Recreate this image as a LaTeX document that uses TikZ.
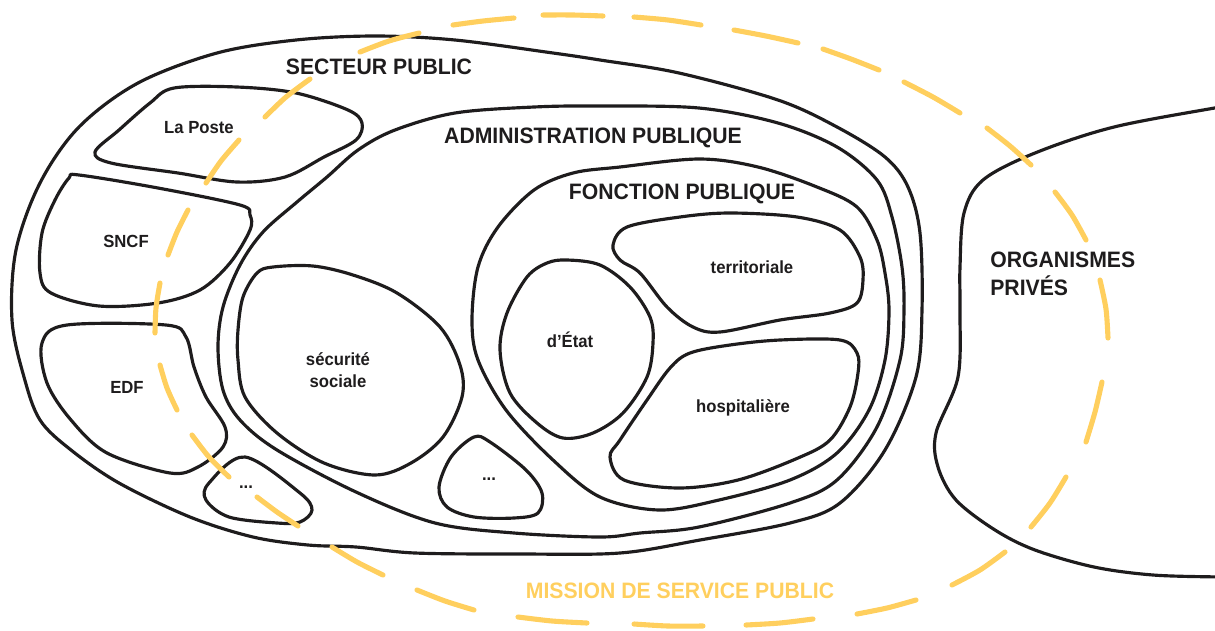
\documentclass[tikz,border=0pt]{standalone}
\usepackage{fontspec}
\setmainfont{Liberation Sans}[FakeStretch=0.95]
\definecolor{ink}{RGB}{30,28,29}
\definecolor{gold}{RGB}{255,207,94}
\tikzset{
  blob/.style={draw=ink, line width=1.8pt, line join=round},
  mission/.style={draw=gold, line width=2.9pt, line cap=round},
  biglabel/.style={font=\bfseries\fontsize{12.7}{16}\selectfont, text=ink, inner sep=0pt},
  smalllabel/.style={font=\bfseries\fontsize{10}{12.5}\selectfont, text=ink, align=center, inner sep=0pt},
}
\begin{document}
\begin{tikzpicture}[x=0.02cm, y=-0.02cm]
\useasboundingbox (0,0) rectangle (1215,630);
% outer: secteur public
\draw[blob] plot[smooth cycle, tension=0.55] coordinates {
 (12,320) (24,377) (40,420) (71,450) (119,483) (190,517) (253,537) (308,545)
 (356,547) (415,553) (520,554) (620,553) (700,540) (790,523) (840,503) (885,450)
 (916,377) (922,310) (920,233) (908,187) (885,157) (837,127) (778,100) (679,73)
 (600,60) (553,53) (455,40) (375,36) (296,40) (217,53) (138,83) (79,127) (40,183) (16,250)};
% administration publique
\draw[blob] plot[smooth cycle, tension=0.55] coordinates {
 (218,347) (223,390) (240,420) (277,450) (356,492) (435,523) (514,533) (600,537)
 (640,533) (699,527) (790,503) (837,480) (877,427) (900,360) (904,310) (902,267)
 (892,217) (877,180) (837,147) (778,123) (699,108) (600,106) (534,107) (455,113)
 (395,130) (358,150) (327,177) (297,202) (263,232) (240,265) (223,307)};
% fonction publique
\draw[blob] plot[smooth cycle, tension=0.55] coordinates {
 (472,320) (478,360) (506,410) (553,460) (600,497) (659,510) (719,500) (790,480)
 (837,453) (869,410) (885,360) (889,310) (885,273) (877,240) (857,207) (817,187)
 (758,167) (699,159) (620,167) (573,173) (534,190) (498,227) (478,267)};
% la poste
\draw[blob] plot[smooth cycle, tension=0.55] coordinates {
 (174,88) (237,87) (296,93) (348,110) (362,123) (356,140) (324,157) (285,177)
 (237,182) (178,173) (111,163) (95,152) (119,130) (150,103)};
% sncf
\draw[blob] plot[smooth cycle, tension=0.55] coordinates {
 (79,175) (158,188) (240,205) (250,215) (250,230) (230,263) (200,290) (158,303) (99,306)
 (51,293) (40,273) (42,233) (55,200) (69,178)};
% edf
\draw[blob] plot[smooth cycle, tension=0.55] coordinates {
 (67,325) (166,325) (186,337) (194,367) (206,397) (225,427) (223,447) (198,467)
 (170,473) (107,453) (71,420) (47,383) (42,343)};
% small ... left
\draw[blob] plot[smooth cycle, tension=0.55] coordinates {
 (245,457) (300,493) (312,510) (300,522) (277,523) (229,517) (206,500) (209,483)};
% securite sociale
\draw[blob] plot[smooth cycle, tension=0.55] coordinates {
 (273,267) (313,266) (353,275) (397,293) (440,327) (460,365) (462,397) (443,437) (411,463)
 (375,475) (324,463) (277,433) (245,397) (238,360) (238,330) (243,297) (257,273)};
% small ... middle
\draw[blob] plot[smooth cycle, tension=0.55] coordinates {
 (474,437) (490,442) (526,470) (542,493) (538,513) (514,518) (474,517) (447,507)
 (439,487) (451,457)};
% d'Etat
\draw[blob] plot[smooth cycle, tension=0.55] coordinates {
 (567,260) (600,265) (630,287) (650,317) (653,343) (647,377) (623,413) (593,433)
 (563,438) (537,423) (510,393) (500,350) (507,313) (527,277) (547,263)};
% territoriale
\draw[blob] plot[smooth cycle, tension=0.55] coordinates {
 (627,227) (680,217) (730,213) (797,217) (840,230) (860,257) (863,280) (857,303)
 (830,313) (780,320) (720,332) (693,327) (667,307) (640,273) (620,260) (613,245)};
% hospitaliere
\draw[blob] plot[smooth cycle, tension=0.55] coordinates {
 (690,353) (730,345) (780,340) (840,340) (857,353) (858,373) (850,407) (830,440) (798,458) (738,480)
 (679,488) (624,480) (610,457) (620,440) (647,400) (670,368)};
% organismes prives
\draw[blob] plot[smooth, tension=0.55] coordinates {
 (1230,105) (1220,107) (1114,127) (1035,153) (983,180) (964,213) (960,267) (960,310)
 (958,377) (936,433) (938,467) (956,500) (995,530) (1035,550) (1094,567) (1153,575)
 (1220,577) (1230,577)};
% mission de service public: hand-drawn dashes
\draw[mission] plot[smooth] coordinates {(360,52) (389,41) (419,33)};
\draw[mission] plot[smooth] coordinates {(265,117) (286,97) (310,79)};
\draw[mission] plot[smooth] coordinates {(206,183) (221,161) (239,140)};
\draw[mission] plot[smooth] coordinates {(168,255) (177,232) (188,210)};
\draw[mission] plot[smooth] coordinates {(155,333) (156,308) (160,283)};
\draw[mission] plot[smooth] coordinates {(160,365) (167,388) (177,410)};
\draw[mission] plot[smooth] coordinates {(192,435) (209,457) (229,477)};
\draw[mission] plot[smooth] coordinates {(257,497) (277,512) (298,526)};
\draw[mission] plot[smooth] coordinates {(332,547) (357,562) (383,575)};
\draw[mission] plot[smooth] coordinates {(417,590) (445,601) (474,610)};
\draw[mission] plot[smooth] coordinates {(518,617) (552,621) (587,623)};
\draw[mission] plot[smooth] coordinates {(634,624) (668,626) (703,626)};
\draw[mission] plot[smooth] coordinates {(746,625) (780,623) (813,619)};
\draw[mission] plot[smooth] coordinates {(857,614) (887,608) (916,600)};
\draw[mission] plot[smooth] coordinates {(952,585) (980,570) (1005,552)};
\draw[mission] plot[smooth] coordinates {(1031,527) (1050,503) (1066,477)};
\draw[mission] plot[smooth] coordinates {(1086,442) (1095,412) (1102,382)};
\draw[mission] plot[smooth] coordinates {(1100,280) (1106,309) (1108,338)};
\draw[mission] plot[smooth] coordinates {(1055,192) (1072,215) (1086,240)};
\draw[mission] plot[smooth] coordinates {(987,128) (1010,146) (1031,165)};
\draw[mission] plot[smooth] coordinates {(904,82) (933,97) (960,113)};
\draw[mission] plot[smooth] coordinates {(823,49) (851,59) (879,70)};
\draw[mission] plot[smooth] coordinates {(734,30) (766,36) (798,43)};
\draw[mission] plot[smooth] coordinates {(634,17) (668,20) (701,25)};
\draw[mission] plot[smooth] coordinates {(543,15) (573,15) (603,16)};
\draw[mission] plot[smooth] coordinates {(453,25) (483,21) (514,18)};
% labels
\node[biglabel] (sp) at (379,67) {SECTEUR PUBLIC};
\node[biglabel] (ap) at (593,138) {ADMINISTRATION PUBLIQUE};
\node[biglabel] (fp) at (682,194) {FONCTION PUBLIQUE};
\node[biglabel, align=left, anchor=west] (op) at (990,274) {ORGANISMES\\PRIVÉS};
\node[biglabel, text=gold] (ms) at (680,591) {MISSION DE SERVICE PUBLIC};
\node[smalllabel] (lp) at (199,128) {La Poste};
\node[smalllabel] (sn) at (126,241) {SNCF};
\node[smalllabel] (ed) at (127,387) {EDF};
\node[smalllabel] (d1) at (246,487) {...};
\node[smalllabel] (ss) at (338,370) {sécurité\\sociale};
\node[smalllabel] (d2) at (489,479) {...};
\node[smalllabel] (de) at (570,340) {d’État};
\node[smalllabel] (te) at (752,267) {territoriale};
\node[smalllabel] (ho) at (743,408) {hospitalière};
\end{tikzpicture}
\end{document}
